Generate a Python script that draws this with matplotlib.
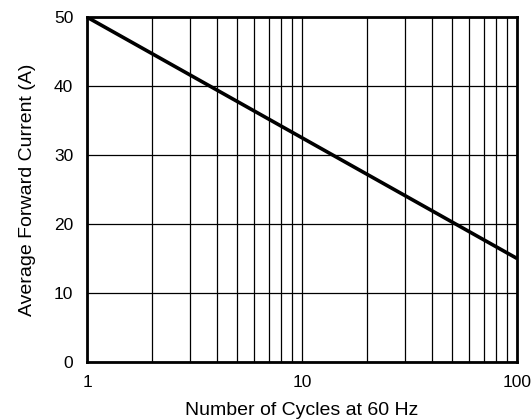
import numpy as np
import matplotlib
matplotlib.use("Agg")
import matplotlib.pyplot as plt
from matplotlib.ticker import FixedLocator, NullFormatter

plt.rcParams['font.family'] = ['Liberation Sans', 'DejaVu Sans']

# data
cycles = [1, 100]
current = [50, 15]
x_ticks = [1, 10, 100]
x_tick_labels = ["1", "10", "100"]
y_ticks = [0, 10, 20, 30, 40, 50]

fig = plt.figure(figsize=(5.31, 4.19), dpi=100)
ax = fig.add_axes([0.164, 0.136, 0.81, 0.823])

ax.plot(cycles, current, color="black", linewidth=2.6, solid_capstyle="butt")

ax.set_xscale("log")
ax.set_xlim(1, 100)
ax.set_ylim(0, 50)
ax.set_xticks(x_ticks)
ax.set_xticklabels(x_tick_labels)
minor = [m * d for d in (1, 10) for m in range(2, 10)]
ax.xaxis.set_minor_locator(FixedLocator(minor))
ax.xaxis.set_minor_formatter(NullFormatter())
ax.set_yticks(y_ticks)

ax.grid(True, which="both", color="black", linewidth=0.9)
ax.tick_params(which="both", length=0, labelsize=12.5)
ax.tick_params(axis="x", pad=9)
ax.tick_params(axis="y", pad=10)

for s in ax.spines.values():
    s.set_linewidth(2)

ax.set_xlabel("Number of Cycles at 60 Hz", fontsize=14, labelpad=9)
ax.set_ylabel("Average Forward Current (A)", fontsize=14, labelpad=13)

fig.savefig("out.png", dpi=100)
